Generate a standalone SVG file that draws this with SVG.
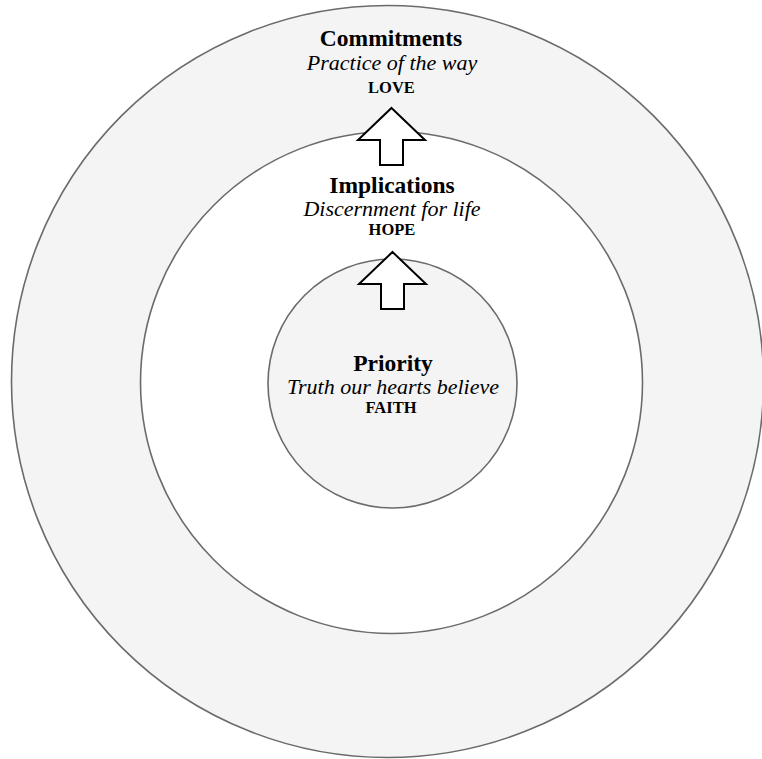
<svg xmlns="http://www.w3.org/2000/svg" width="762" height="759" viewBox="0 0 762 759">
<style>
.ring{stroke:#6b6b6b;stroke-width:1.6}
.t{font-family:"Liberation Serif","Times New Roman",serif;text-anchor:middle;fill:#000}
.b{font-weight:bold;font-size:23.5px}
.i{font-style:italic;font-size:22px}
.c{font-weight:bold;font-size:16.5px}
.arrow{fill:#fff;stroke:#000;stroke-width:2;stroke-linejoin:miter}
</style>
<rect width="762" height="759" fill="#fff"/>
<g id="commitments">
<circle class="ring" cx="387.5" cy="381.5" r="376" fill="#f4f4f4"/>
<text class="t b" x="391" y="46">Commitments</text>
<text class="t i" x="392" y="69.5">Practice of the way</text>
<text class="t c" x="391.5" y="93">LOVE</text>
</g>
<g id="implications">
<circle class="ring" cx="391.5" cy="382.5" r="251" fill="#fff"/>
<text class="t b" x="392" y="193">Implications</text>
<text class="t i" x="392" y="216">Discernment for life</text>
<text class="t c" x="392" y="235">HOPE</text>
</g>
<g id="priority">
<circle class="ring" cx="392.5" cy="383.5" r="124.5" fill="#f4f4f4"/>
<text class="t b" x="393" y="371">Priority</text>
<text class="t i" x="393" y="394">Truth our hearts believe</text>
<text class="t c" x="391" y="413">FAITH</text>
</g>
<g id="connectors">
<polygon class="arrow" points="391.5,108 425,140 403,140 403,165 380,165 380,140 358,140"/>
<polygon class="arrow" points="392.5,252 426,284 404,284 404,309 381,309 381,284 359,284"/>
</g>
</svg>
